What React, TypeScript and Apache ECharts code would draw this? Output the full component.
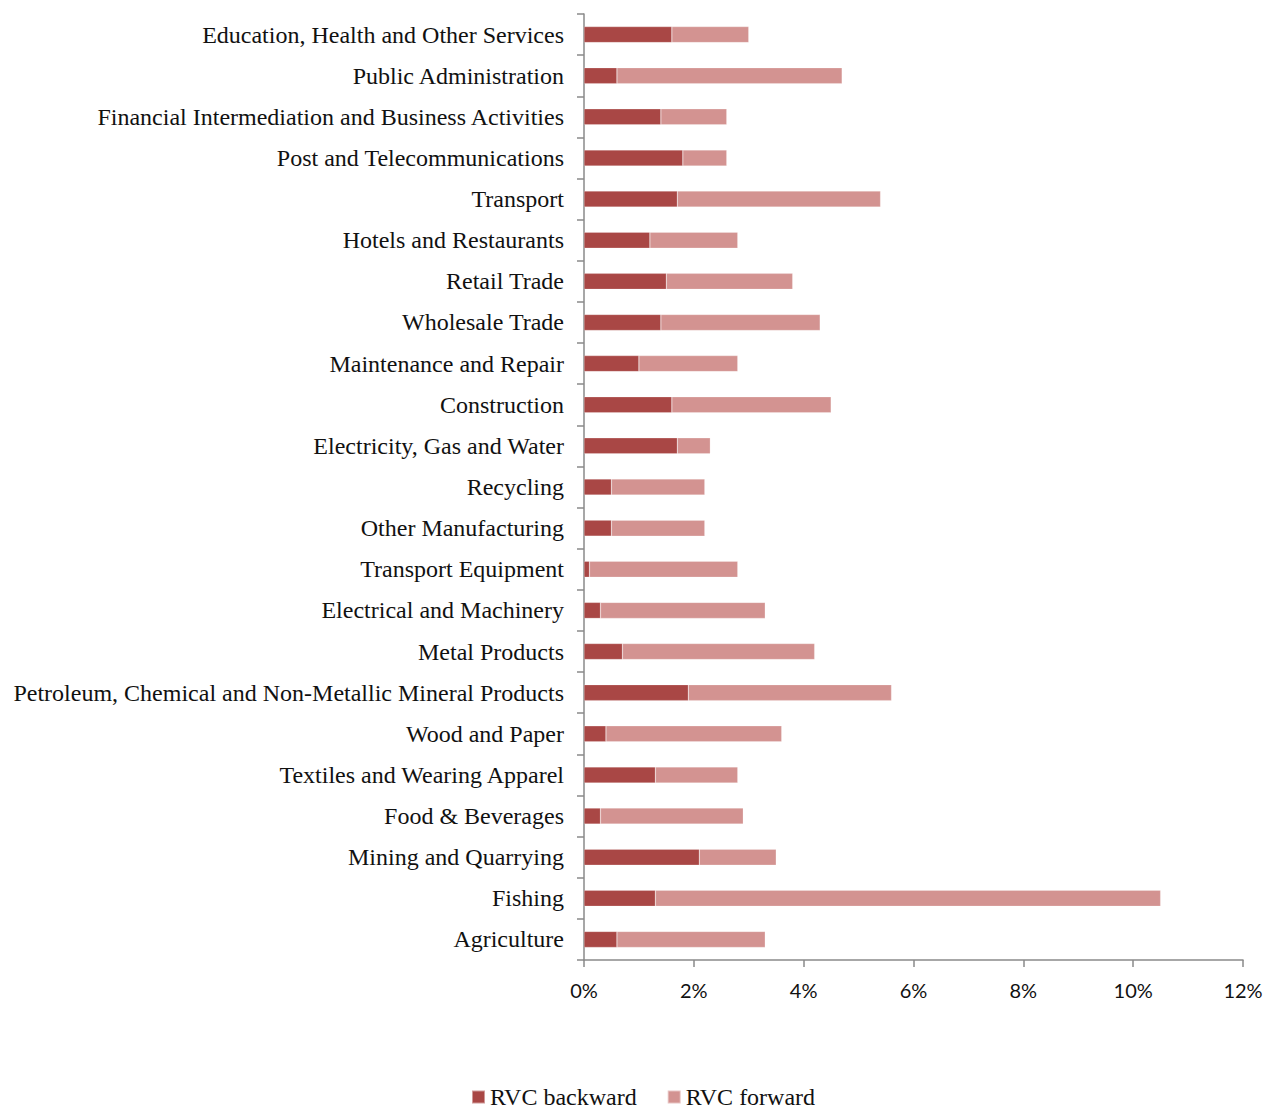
import React, { useEffect, useRef } from "react";
import * as echarts from "echarts";

// Industries, listed top to bottom
const industries = [
  "Education, Health and Other Services",
  "Public Administration",
  "Financial Intermediation and Business Activities",
  "Post and Telecommunications",
  "Transport",
  "Hotels and Restaurants",
  "Retail Trade",
  "Wholesale Trade",
  "Maintenance and Repair",
  "Construction",
  "Electricity, Gas and Water",
  "Recycling",
  "Other Manufacturing",
  "Transport Equipment",
  "Electrical and Machinery",
  "Metal Products",
  "Petroleum, Chemical and Non-Metallic Mineral Products",
  "Wood and Paper",
  "Textiles and Wearing Apparel",
  "Food & Beverages",
  "Mining and Quarrying",
  "Fishing",
  "Agriculture",
];

// Shares in percent
const rvcBackward = [
  1.6, 0.6, 1.4, 1.8, 1.7, 1.2, 1.5, 1.4, 1.0, 1.6, 1.7, 0.5, 0.5, 0.1, 0.3,
  0.7, 1.9, 0.4, 1.3, 0.3, 2.1, 1.3, 0.6,
];
const rvcForward = [
  1.4, 4.1, 1.2, 0.8, 3.7, 1.6, 2.3, 2.9, 1.8, 2.9, 0.6, 1.7, 1.7, 2.7, 3.0,
  3.5, 3.7, 3.2, 1.5, 2.6, 1.4, 9.2, 2.7,
];

const seriesNames = ["RVC backward", "RVC forward"];
const axisMin = 0;
const axisMax = 12;
const axisStep = 2;

const serif = "'Liberation Serif', 'Times New Roman', serif";
const sans = "Lato, 'Open Sans', sans-serif";
const axisGrey = "#8a8a8a";

export default function App() {
  const ref = useRef<HTMLDivElement>(null);

  useEffect(() => {
    if (!ref.current) return;
    const chart = echarts.init(ref.current, null, { renderer: "svg" });
    chart.setOption({
      animation: false,
      backgroundColor: "#ffffff",
      color: ["#a94745", "#d39391"],
      grid: { left: 584, right: 38, top: 14, bottom: 149, containLabel: false },
      legend: {
        data: seriesNames,
        left: 466,
        top: 1080,
        itemWidth: 13,
        itemHeight: 13,
        itemGap: 30,
        icon: "rect",
        textStyle: { fontFamily: serif, fontSize: 24, color: "#111" },
      },
      xAxis: {
        type: "value",
        min: axisMin,
        max: axisMax,
        interval: axisStep,
        axisLine: { show: true, lineStyle: { color: axisGrey, width: 1.5 } },
        axisTick: { show: true, length: 7, lineStyle: { color: axisGrey, width: 1.5 } },
        splitLine: { show: false },
        axisLabel: {
          formatter: "{value}%",
          margin: 20,
          fontFamily: sans,
          fontSize: 20,
          color: "#111",
        },
      },
      yAxis: {
        type: "category",
        data: industries,
        inverse: true,
        axisLine: { show: true, lineStyle: { color: axisGrey, width: 1.5 } },
        axisTick: { show: true, length: 7, lineStyle: { color: axisGrey, width: 1.5 } },
        axisLabel: {
          margin: 20,
          fontFamily: serif,
          fontSize: 24,
          color: "#111",
        },
      },
      series: [
        {
          name: seriesNames[0],
          type: "bar",
          stack: "rvc",
          barWidth: 16,
          data: rvcBackward,
          itemStyle: { borderColor: "rgba(255,255,255,0.45)", borderWidth: 0.5 },
        },
        {
          name: seriesNames[1],
          type: "bar",
          stack: "rvc",
          barWidth: 16,
          data: rvcForward,
          itemStyle: { borderColor: "rgba(255,255,255,0.45)", borderWidth: 0.5 },
        },
      ],
    });
    return () => chart.dispose();
  }, []);

  return (
    <div
      ref={ref}
      style={{ position: "fixed", left: 0, top: 0, width: 1281, height: 1109, background: "#fff" }}
    />
  );
}
